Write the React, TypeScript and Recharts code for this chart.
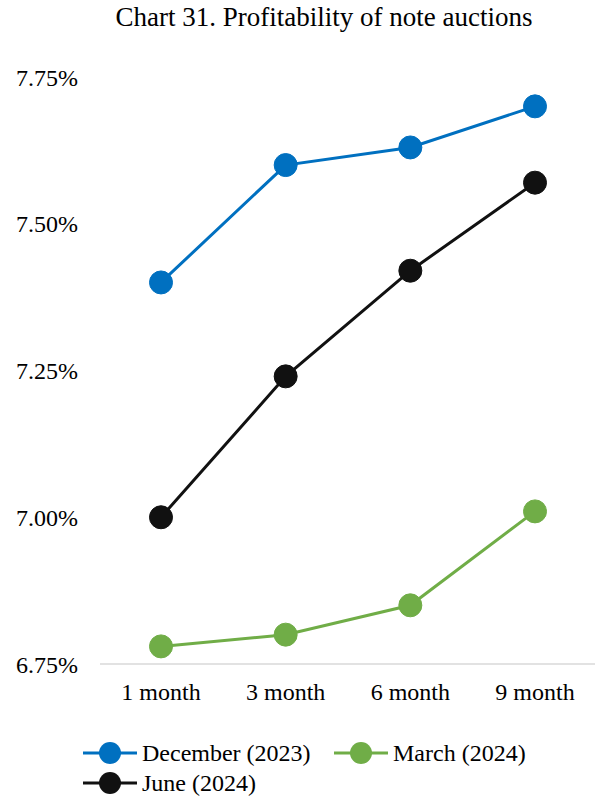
import React from 'react';
import { LineChart, Line, XAxis, YAxis } from 'recharts';

const tenors = ['1 month', '3 month', '6 month', '9 month'];
const december2023 = [7.4, 7.6, 7.63, 7.7];
const march2024 = [6.78, 6.8, 6.85, 7.01];
const june2024 = [7.0, 7.24, 7.42, 7.57];
const yTicks = [6.75, 7.0, 7.25, 7.5, 7.75];

const FONT = "'Liberation Serif', 'Times New Roman', Times, serif";

const series = [
  { key: 'dec', name: 'December (2023)', color: '#0070C0', values: december2023 },
  { key: 'mar', name: 'March (2024)', color: '#70AD47', values: march2024 },
  { key: 'jun', name: 'June (2024)', color: '#111111', values: june2024 },
];

const rows = tenors.map((t, i) => {
  const row: Record<string, string | number> = { tenor: t };
  series.forEach((s) => (row[s.key] = s.values[i]));
  return row;
});

function LegendBox() {
  return (
    <div
      style={{
        position: 'absolute',
        left: 83,
        top: 738,
        width: 502,
        display: 'flex',
        flexWrap: 'wrap',
        fontFamily: FONT,
        fontSize: 24,
        color: '#000',
      }}
    >
      {series.map((s) => (
        <div key={s.key} style={{ width: 251, height: 30, display: 'flex', alignItems: 'center' }}>
          <svg width={54} height={24} style={{ flex: 'none' }}>
            <line x1={0} y1={12} x2={54} y2={12} stroke={s.color} strokeWidth={3} />
            <circle cx={27} cy={12} r={11} fill={s.color} />
          </svg>
          <span style={{ marginLeft: 5, whiteSpace: 'nowrap' }}>{s.name}</span>
        </div>
      ))}
    </div>
  );
}

export default function App() {
  return (
    <div style={{ position: 'absolute', left: 0, top: 0, width: 595, height: 796, background: '#fff' }}>
      <div
        style={{
          position: 'absolute',
          top: 4,
          left: 0,
          width: 648,
          textAlign: 'center',
          fontFamily: FONT,
          fontSize: 27,
          lineHeight: '27px',
          color: '#000',
        }}
      >
        Chart 31. Profitability of note auctions
      </div>
      <LineChart
        width={595}
        height={796}
        data={rows}
        margin={{ top: 77, right: 0, bottom: 92, left: 0 }}
      >
        <XAxis
          dataKey="tenor"
          height={40}
          padding={{ left: 61, right: 60 }}
          tickSize={0}
          tickMargin={19}
          axisLine={{ stroke: '#d9d9d9', strokeWidth: 1.5 }}
          tick={{ fill: '#000', fontSize: 24, fontFamily: FONT }}
        />
        <YAxis
          width={100}
          domain={[6.75, 7.75]}
          ticks={yTicks}
          tickFormatter={(v: number) => v.toFixed(2) + '%'}
          axisLine={false}
          tickLine={false}
          tickSize={0}
          tickMargin={22}
          tick={{ fill: '#000', fontSize: 24, fontFamily: FONT }}
        />
        {series.map((s) => (
          <Line
            key={s.key}
            dataKey={s.key}
            name={s.name}
            stroke={s.color}
            strokeWidth={3}
            dot={{ r: 11.5, fill: s.color, stroke: s.color, strokeWidth: 1 }}
            activeDot={false}
            isAnimationActive={false}
          />
        ))}
      </LineChart>
      <LegendBox />
    </div>
  );
}
